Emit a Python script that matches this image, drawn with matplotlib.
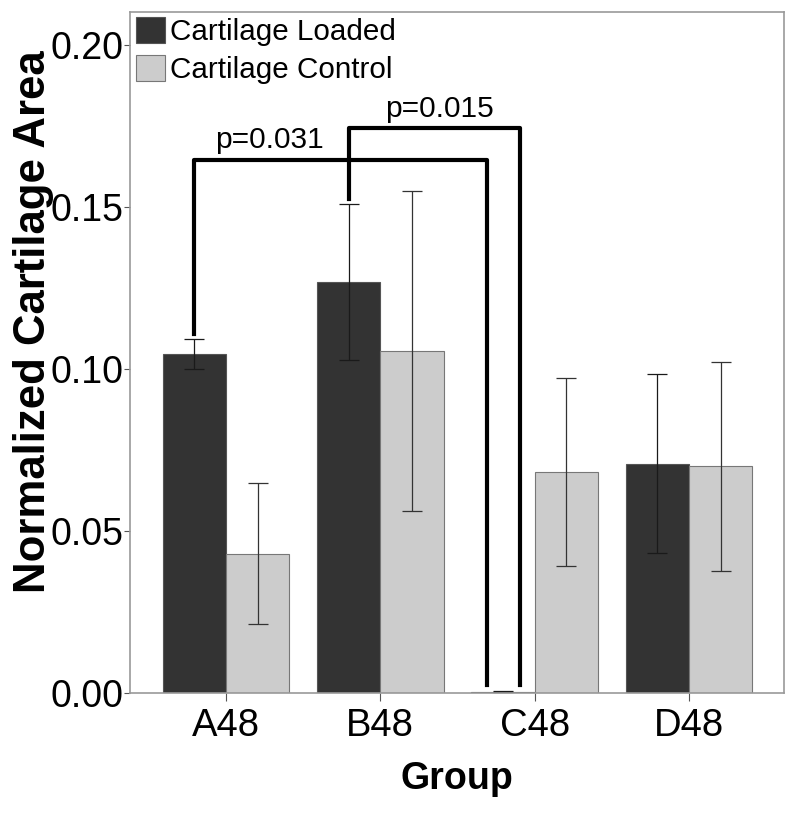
import numpy as np
import matplotlib
matplotlib.use('Agg')
from matplotlib import pyplot as plt

plt.rcParams['font.family'] = ['Liberation Sans', 'DejaVu Sans']

groups = ['A48', 'B48', 'C48', 'D48']
loaded = [0.1047, 0.1269, 0.0004, 0.0708]
loaded_lo = [0.1000, 0.1028, 0.0002, 0.0432]
loaded_hi = [0.1093, 0.1510, 0.0006, 0.0984]
control = [0.0429, 0.1056, 0.0682, 0.0700]
control_lo = [0.0212, 0.0561, 0.0391, 0.0378]
control_hi = [0.0650, 0.1551, 0.0972, 0.1023]
series_names = ['Cartilage Loaded', 'Cartilage Control']
p_labels = ['p=0.031', 'p=0.015']

x = np.arange(len(groups))
w = 0.41

fig = plt.figure(figsize=(8, 8.14), dpi=100)
ax = fig.add_axes([0.1625, 0.1486, 0.8175, 0.8367])

loaded = np.array(loaded)
control = np.array(control)
err_l = [loaded - np.array(loaded_lo), np.array(loaded_hi) - loaded]
err_c = [control - np.array(control_lo), np.array(control_hi) - control]

ax.bar(x - w / 2, loaded, w, color='#333333', edgecolor='#555555', linewidth=0.8,
       label=series_names[0])
ax.bar(x + w / 2, control, w, color='#cccccc', edgecolor='#777777', linewidth=0.8,
       label=series_names[1])
ax.errorbar(x - w / 2, loaded, yerr=err_l, fmt='none', ecolor='#1a1a1a',
            elinewidth=0.9, capsize=7, capthick=0.9)
ax.errorbar(x + w / 2, control, yerr=err_c, fmt='none', ecolor='#333333',
            elinewidth=0.9, capsize=7, capthick=0.9)

# significance brackets
ax.plot([x[0] - w / 2, x[0] - w / 2, 1.694, 1.694],
        [0.1109, 0.1646, 0.1646, 0.0025], color='black', lw=3)
ax.plot([x[1] - w / 2, x[1] - w / 2, 1.906, 1.906],
        [0.1526, 0.1744, 0.1744, 0.0025], color='black', lw=3)
ax.text(0.285, 0.1683, p_labels[0], fontsize=21.5, ha='center', va='baseline')
ax.text(1.386, 0.1780, p_labels[1], fontsize=21.5, ha='center', va='baseline')

ax.set_xlim(-0.622, 3.616)
ax.set_ylim(0, 0.2103)
ax.set_xticks(x)
ax.set_xticklabels(groups, fontsize=27.5)
ax.set_yticks([0, 0.05, 0.10, 0.15, 0.20])
ax.set_yticklabels(['0.00', '0.05', '0.10', '0.15', '0.20'], fontsize=27)
ax.tick_params(axis='x', length=6, color='#555555', pad=5)
ax.tick_params(axis='y', length=4, color='#555555', pad=1)
for s in ax.spines.values():
    s.set_color('#999999')
    s.set_linewidth(1.2)

ax.set_xlabel('Group', fontsize=27, fontweight='bold', labelpad=12)
ax.set_ylabel('Normalized Cartilage Area', fontsize=31.5, fontweight='bold')
ax.yaxis.set_label_coords(-0.116, 0.545)

ax.legend(loc='upper left', bbox_to_anchor=(0.009, 0.993), frameon=False,
          fontsize=21.3, handlelength=1.0, handleheight=1.0, handletextpad=0.15,
          labelspacing=0.3, borderpad=0, borderaxespad=0)

fig.savefig('out.png')
